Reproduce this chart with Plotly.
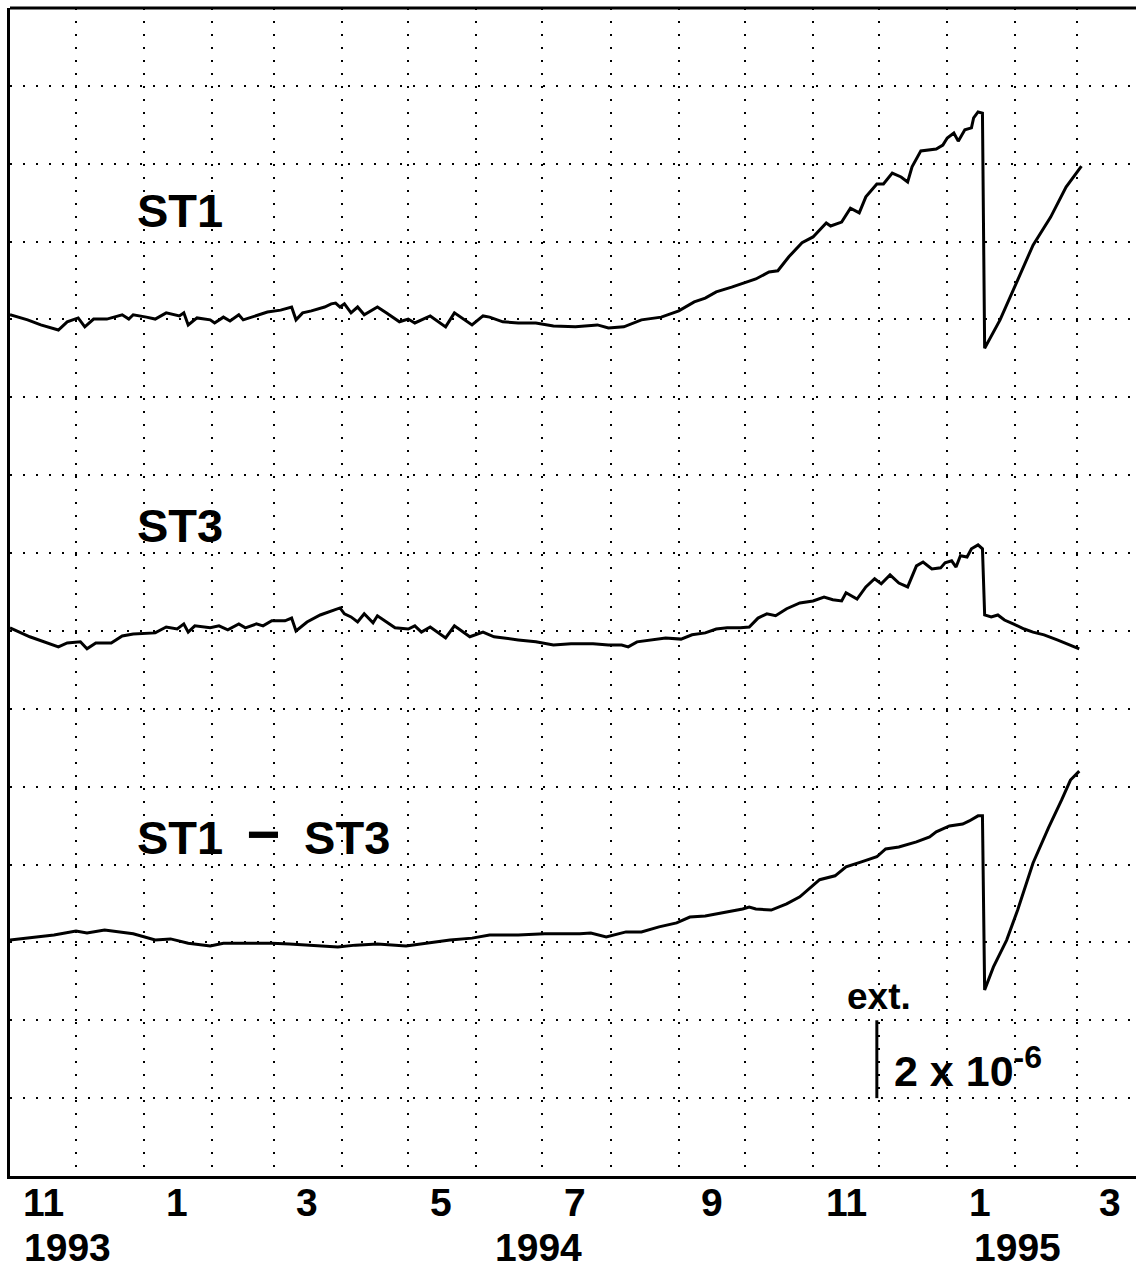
import plotly.graph_objects as go

# ---------------- data (strain, units of 1e-6, relative to each trace's start level) ----------------
st1_dates = ["1993-11-01","1993-11-09","1993-11-15","1993-11-23","1993-11-27","1993-12-02","1993-12-05","1993-12-09",
             "1993-12-15","1993-12-22","1993-12-25","1993-12-27","1994-01-02","1994-01-06","1994-01-11","1994-01-17",
             "1994-01-19","1994-01-21","1994-01-25","1994-01-31","1994-02-02","1994-02-06","1994-02-09","1994-02-13",
             "1994-02-15","1994-02-21","1994-02-26","1994-03-04","1994-03-09","1994-03-11","1994-03-14","1994-03-18",
             "1994-03-24","1994-03-27","1994-03-29","1994-03-31","1994-04-02","1994-04-05","1994-04-08","1994-04-11",
             "1994-04-17","1994-04-21","1994-04-27","1994-05-01","1994-05-04","1994-05-11","1994-05-18","1994-05-22",
             "1994-05-30","1994-06-04","1994-06-07","1994-06-13","1994-06-20","1994-06-28","1994-07-06","1994-07-16",
             "1994-07-26","1994-07-31","1994-08-07","1994-08-15","1994-08-24","1994-09-01","1994-09-08","1994-09-13",
             "1994-09-18","1994-09-25","1994-10-01","1994-10-06","1994-10-12","1994-10-16","1994-10-21","1994-10-27",
             "1994-11-01","1994-11-07","1994-11-09","1994-11-14","1994-11-18","1994-11-22","1994-11-25","1994-11-30",
             "1994-12-03","1994-12-07","1994-12-11","1994-12-14","1994-12-16","1994-12-20","1994-12-27","1994-12-30",
             "1995-01-01","1995-01-04","1995-01-06","1995-01-09","1995-01-12","1995-01-13","1995-01-15","1995-01-17",
             "1995-01-18","1995-01-25","1995-02-02","1995-02-09","1995-02-17","1995-02-24","1995-03-03"]
st1_values = [0.12,-0.01,-0.14,-0.27,-0.06,0.04,-0.19,0.01,0.01,0.12,0.01,0.12,0.06,0.01,0.17,0.09,
              0.17,-0.14,0.04,-0.01,-0.09,0.06,-0.04,0.12,-0.01,0.09,0.19,0.24,0.32,-0.01,0.17,0.22,
              0.32,0.40,0.42,0.32,0.40,0.17,0.32,0.12,0.32,0.17,-0.06,0.01,-0.09,0.09,-0.19,0.17,
              -0.14,0.09,0.06,-0.06,-0.09,-0.09,-0.17,-0.19,-0.14,-0.22,-0.19,-0.01,0.06,0.22,0.45,0.55,
              0.71,0.83,0.94,1.04,1.22,1.25,1.61,1.97,2.12,2.48,2.40,2.50,2.86,2.74,3.15,3.48,
              3.48,3.76,3.66,3.53,3.92,4.33,4.38,4.48,4.66,4.79,4.58,4.87,4.92,5.18,5.33,5.30,
              -0.74,-0.01,1.01,1.91,2.63,3.40,3.94]

st3_dates = ["1993-11-01","1993-11-10","1993-11-23","1993-11-27","1993-12-03","1993-12-06","1993-12-10","1993-12-17",
             "1993-12-22","1993-12-27","1994-01-06","1994-01-11","1994-01-16","1994-01-19","1994-01-21","1994-01-24",
             "1994-01-31","1994-02-04","1994-02-08","1994-02-13","1994-02-16","1994-02-21","1994-02-24","1994-02-28",
             "1994-03-06","1994-03-09","1994-03-11","1994-03-16","1994-03-22","1994-03-27","1994-03-31","1994-04-02",
             "1994-04-05","1994-04-08","1994-04-11","1994-04-15","1994-04-17","1994-04-25","1994-05-01","1994-05-04",
             "1994-05-07","1994-05-11","1994-05-18","1994-05-22","1994-05-29","1994-06-04","1994-06-09","1994-06-20",
             "1994-06-28","1994-07-06","1994-07-14","1994-07-24","1994-07-31","1994-08-06","1994-08-09","1994-08-13",
             "1994-08-20","1994-08-26","1994-09-02","1994-09-07","1994-09-13","1994-09-18","1994-09-23","1994-09-29",
             "1994-10-03","1994-10-07","1994-10-11","1994-10-15","1994-10-20","1994-10-26","1994-11-01","1994-11-06",
             "1994-11-10","1994-11-14","1994-11-16","1994-11-21","1994-11-25","1994-11-29","1994-12-02","1994-12-06",
             "1994-12-10","1994-12-14","1994-12-18","1994-12-21","1994-12-25","1994-12-29","1994-12-31","1995-01-03",
             "1995-01-05","1995-01-07","1995-01-10","1995-01-12","1995-01-15","1995-01-17","1995-01-18","1995-01-21",
             "1995-01-24","1995-01-27","1995-01-31","1995-02-05","1995-02-09","1995-02-14","1995-02-20","1995-02-24",
             "1995-03-02"]
st3_values = [0.08,-0.15,-0.41,-0.31,-0.28,-0.46,-0.31,-0.31,-0.13,-0.08,-0.05,0.10,0.05,0.18,-0.03,0.13,
              0.08,0.13,0.03,0.18,0.08,0.18,0.13,0.26,0.26,0.33,0.00,0.23,0.41,0.51,0.59,0.44,
              0.36,0.23,0.44,0.21,0.39,0.08,0.05,0.13,-0.03,0.10,-0.18,0.13,-0.15,-0.03,-0.15,-0.23,
              -0.28,-0.36,-0.33,-0.33,-0.36,-0.36,-0.41,-0.28,-0.23,-0.18,-0.21,-0.10,-0.05,0.05,0.08,0.08,
              0.10,0.33,0.44,0.39,0.57,0.72,0.77,0.87,0.80,0.77,0.98,0.82,1.13,1.34,1.21,1.44,
              1.23,1.13,1.67,1.77,1.59,1.62,1.75,1.80,1.64,1.93,1.90,2.11,2.21,2.11,0.41,0.36,
              0.41,0.28,0.18,0.05,-0.03,-0.10,-0.23,-0.33,-0.46]

diff_dates = ["1993-11-01","1993-11-10","1993-11-21","1993-12-01","1993-12-06","1993-12-14","1993-12-21","1993-12-27",
              "1994-01-06","1994-01-13","1994-01-21","1994-01-31","1994-02-06","1994-02-18","1994-02-28","1994-03-08",
              "1994-03-18","1994-03-30","1994-04-07","1994-04-17","1994-04-30","1994-05-10","1994-05-20","1994-05-30",
              "1994-06-07","1994-06-20","1994-07-02","1994-07-18","1994-07-23","1994-07-30","1994-08-08","1994-08-15",
              "1994-08-23","1994-08-31","1994-09-06","1994-09-13","1994-09-23","1994-09-30","1994-10-03","1994-10-06",
              "1994-10-13","1994-10-20","1994-10-26","1994-10-30","1994-11-04","1994-11-11","1994-11-16","1994-11-23",
              "1994-11-30","1994-12-04","1994-12-10","1994-12-18","1994-12-24","1994-12-27","1995-01-02","1995-01-08",
              "1995-01-11","1995-01-15","1995-01-17","1995-01-18","1995-01-22","1995-01-28","1995-02-02","1995-02-09",
              "1995-02-16","1995-02-22","1995-02-26","1995-03-02"]
diff_values = [0.06,0.11,0.19,0.29,0.24,0.32,0.27,0.22,0.06,0.09,-0.02,-0.09,-0.02,-0.02,-0.02,-0.04,
               -0.07,-0.12,-0.07,-0.04,-0.09,-0.02,0.06,0.11,0.19,0.19,0.22,0.22,0.24,0.14,0.27,0.27,
               0.40,0.50,0.65,0.68,0.78,0.86,0.91,0.86,0.83,0.99,1.17,1.37,1.61,1.71,1.94,2.07,
               2.20,2.40,2.45,2.58,2.71,2.84,2.99,3.04,3.12,3.25,3.25,-1.22,-0.63,0.06,0.83,2.04,
               2.94,3.66,4.17,4.40]

series_names = ["ST1", "ST3", "ST1\u2002<span style=\"font-size:58px\">\u2212</span>\u2002ST3"]
month_tick_dates = ["1993-11-16","1994-01-16","1994-03-16","1994-05-16","1994-07-16",
                    "1994-09-16","1994-11-16","1995-01-16","1995-03-16"]
month_tick_text = ["11","1","3","5","7","9","11","1","3"]
year_labels = ["1993", "1994", "1995"]
year_label_dates = ["1993-11-27", "1994-06-29", "1995-02-02"]

# vertical display offsets (10^-6 units) for stacking the traces
offsets = [22, 14, 6]

FONT = "Liberation Sans, Arial, sans-serif"
DOT = "2px,11px"

fig = go.Figure()
for dates, vals, off in [(st1_dates, st1_values, offsets[0]),
                         (st3_dates, st3_values, offsets[1]),
                         (diff_dates, diff_values, offsets[2])]:
    fig.add_trace(go.Scatter(x=dates, y=[v + off for v in vals], mode="lines",
                             line=dict(color="black", width=3), hoverinfo="skip"))

fig.update_xaxes(
    type="date",
    range=["1993-11-01", "1995-03-27 19:00"],
    tickmode="array", tickvals=month_tick_dates, ticktext=month_tick_text,
    ticks="", showgrid=False, zeroline=False, showticklabels=False,
    showline=True, linecolor="black", linewidth=3,
    minor=dict(tick0="1993-12-01", dtick="M1", showgrid=True, gridcolor="black",
               gridwidth=2, griddash=DOT, ticks=""),
)
fig.update_yaxes(
    range=[0, 30], dtick=2, tick0=0, showticklabels=False, ticks="",
    showgrid=True, gridcolor="black", gridwidth=2, griddash=DOT, zeroline=False,
    showline=True, linecolor="black", linewidth=3,
)

annotations = []
# month labels (placed on the date axis)
for md, mt in zip(month_tick_dates, month_tick_text):
    annotations.append(dict(x=md, y=-0.0231, xref="x", yref="paper", text=mt, showarrow=False,
                            xanchor="center", yanchor="middle",
                            font=dict(family=FONT, size=39, color="black", weight="bold")))
# year labels under the month labels
for yl, yd in zip(year_labels, year_label_dates):
    annotations.append(dict(x=yd, y=-0.0616, xref="x", yref="paper", text=yl, showarrow=False,
                            xanchor="center", yanchor="middle",
                            font=dict(family=FONT, size=39, color="black", weight="bold")))
# series labels
label_pos = [("1993-12-28", 24.8), ("1993-12-28", 16.7), ("1993-12-28", 8.8)]
for name, (lx, ly) in zip(series_names, label_pos):
    annotations.append(dict(x=lx, y=ly, xref="x", yref="y", text=name, showarrow=False,
                            xanchor="left", yanchor="middle",
                            font=dict(family=FONT, size=47, color="black", weight="bold")))
# scale bar text
annotations.append(dict(x="1994-11-15 12:00", y=4.6, xref="x", yref="y", text="ext.", showarrow=False,
                        xanchor="left", yanchor="middle",
                        font=dict(family=FONT, size=37, color="black", weight="bold")))
annotations.append(dict(x="1994-12-07", y=2.8, xref="x", yref="y",
                        text="2 x 10<sup><span style=\"font-size:32px\">-6</span></sup>",
                        showarrow=False, xanchor="left", yanchor="middle",
                        font=dict(family=FONT, size=43, color="black", weight="bold")))

shapes = [
    # top border of the frame
    dict(type="line", xref="paper", yref="paper", x0=0, x1=1, y0=1, y1=1,
         line=dict(color="black", width=3)),
    # scale bar: 2 x 10^-6
    dict(type="line", xref="x", yref="y", x0="1994-11-30", x1="1994-11-30", y0=2, y1=4,
         line=dict(color="black", width=3)),
]

fig.update_layout(
    width=1136, height=1268,
    margin=dict(l=10, r=0, t=8, b=92),
    paper_bgcolor="white", plot_bgcolor="white",
    showlegend=False,
    annotations=annotations, shapes=shapes,
    font=dict(family=FONT, color="black"),
)

fig.write_html("out.html")
